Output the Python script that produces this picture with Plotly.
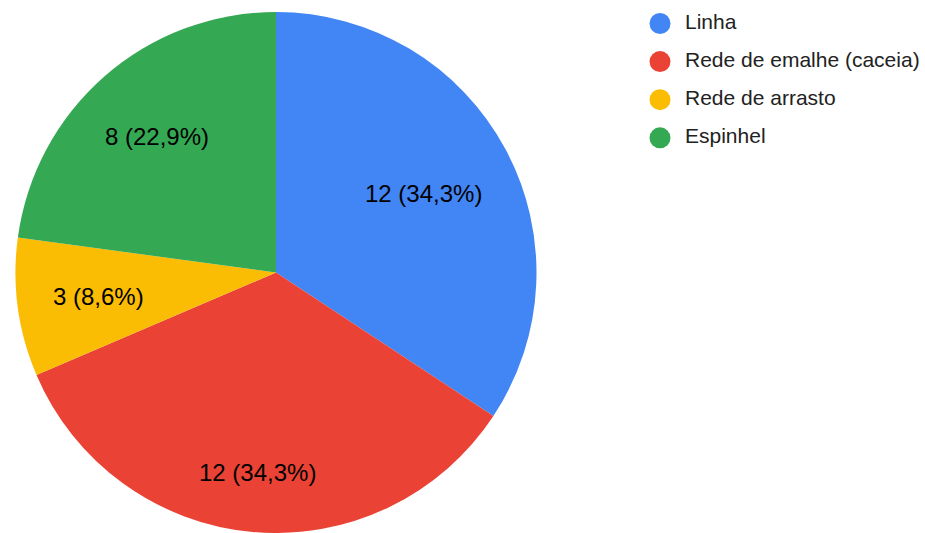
import math
import plotly.graph_objects as go

categories = ["Linha", "Rede de emalhe (caceia)", "Rede de arrasto", "Espinhel"]
counts = [12, 12, 3, 8]
colors = ["#4285F4", "#EA4335", "#FBBC04", "#34A853"]

W, H = 925, 533
FONT = "Liberation Sans, Arial, sans-serif"
LABEL_SIZE = 24
LEGEND_SIZE = 21

# pie geometry (pixels) derived from its domain
dom_x = [14 / W, 538 / W]
dom_y = [0, 1 - 12 / H]
pw = (dom_x[1] - dom_x[0]) * W
ph = (dom_y[1] - dom_y[0]) * H
r = min(pw, ph) / 2
cx = (dom_x[0] + dom_x[1]) / 2 * W
cy = (1 - (dom_y[0] + dom_y[1]) / 2) * H

fig = go.Figure()

fig.add_trace(go.Pie(
    labels=categories,
    values=counts,
    sort=False,
    direction="clockwise",
    rotation=0,
    marker=dict(colors=colors, line=dict(width=0)),
    textinfo="none",
    domain=dict(x=dom_x, y=dom_y),
    hoverinfo="skip",
    showlegend=False,
))

# slice labels, placed like Google Charts (along the mid angle)
ARIAL_W = {"0": .556, "1": .556, "2": .556, "3": .556, "4": .556, "5": .556, "6": .556,
           "7": .556, "8": .556, "9": .556, " ": .278, "(": .333, ")": .333, ",": .278, "%": .889}
total = sum(counts)
cum = 0
for v in counts:
    pct = v / total * 100
    txt = f"{v} ({pct:.1f}%)".replace(".", ",")
    mid = (cum + v / 2) / total * 2 * math.pi
    cum += v
    ux, uy = math.sin(mid), -math.cos(mid)
    tw = sum(ARIAL_W.get(ch, .556) for ch in txt) * LABEL_SIZE
    th = LABEL_SIZE * 0.96
    R = 0.865 * r
    c = (math.copysign(tw / 2, ux), math.copysign(th / 2, uy))
    uc = ux * c[0] + uy * c[1]
    d = -uc + math.sqrt(uc * uc - (c[0] ** 2 + c[1] ** 2) + R * R)
    px, py = cx + d * ux, cy + d * uy
    fig.add_annotation(
        x=px / W, y=1 - py / H, xref="paper", yref="paper",
        text=txt, showarrow=False, xanchor="center", yanchor="middle",
        font=dict(family=FONT, size=LABEL_SIZE, color="#000000"),
    )

# Legend drawn as a scatter (circle markers + labels)
idx = list(range(len(categories)))
fig.add_trace(go.Scatter(
    x=[0] * len(categories), y=idx, mode="markers",
    marker=dict(size=21, color=colors, line=dict(width=0)),
    hoverinfo="skip", showlegend=False, cliponaxis=False,
))
fig.add_trace(go.Scatter(
    x=[1] * len(categories), y=idx, mode="text", text=categories,
    textposition="middle right",
    textfont=dict(family=FONT, size=LEGEND_SIZE, color="#222222"),
    hoverinfo="skip", showlegend=False, cliponaxis=False,
))

fig.update_layout(
    width=W, height=H,
    margin=dict(l=0, r=0, t=0, b=0),
    paper_bgcolor="white", plot_bgcolor="rgba(0,0,0,0)",
    showlegend=False,
    xaxis=dict(domain=[0, 1], range=[-660 / 25, (W - 660) / 25], visible=False, fixedrange=True),
    yaxis=dict(domain=[0, 1], range=[(H - 23.5) / 38.1, -23.5 / 38.1], visible=False, fixedrange=True),
)

fig.write_html("out.html", config={"displayModeBar": False},
               post_script="document.body.style.margin='0px';")
